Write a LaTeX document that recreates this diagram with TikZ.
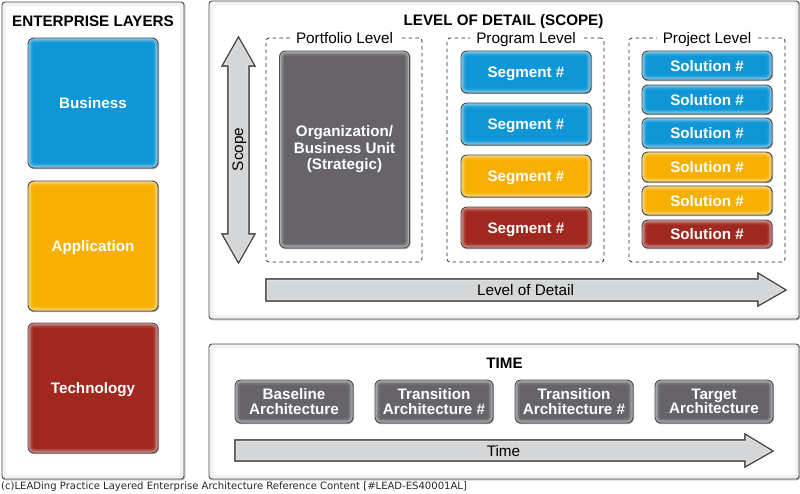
\documentclass[tikz,border=0pt]{standalone}
\usepackage{fontspec}
\setmainfont{Liberation Sans}
\newfontfamily\footfont{DejaVu Sans}
\definecolor{cblue}{HTML}{0E96D6}
\definecolor{cyell}{HTML}{F7B000}
\definecolor{cred}{HTML}{A0281E}
\definecolor{cgrey}{HTML}{666469}
\definecolor{carrow}{HTML}{D4D6D8}
\definecolor{cedge}{HTML}{4A4A4A}
\tikzset{
  x=1pt,y=-1pt,
  panel/.style={draw=cedge,line width=.9pt,rounded corners=3pt,fill=white,
    preaction={draw=black!30,line width=1pt,transform canvas={xshift=.8pt,yshift=-.8pt}},
    path picture={
      \draw[black!5,line width=8pt,rounded corners=3pt] (path picture bounding box.south west) rectangle (path picture bounding box.north east);}},
  dashbox/.style={draw=black!85,line width=.8pt,dash pattern=on 3.6pt off 3.2pt,rounded corners=3pt},
  block/.style={draw=cedge,line width=.9pt,rounded corners=6pt,fill=#1,text=white,
    font=\bfseries\fontsize{15.2}{16.5}\selectfont,align=center,inner sep=0pt,outer sep=0pt,
    preaction={draw=black!35,line width=1pt,transform canvas={xshift=.6pt,yshift=-.7pt}},
    path picture={
      \draw[white,opacity=.10,line width=9pt,rounded corners=6pt] (path picture bounding box.south west) rectangle (path picture bounding box.north east);
      \draw[white,opacity=.18,line width=6pt,rounded corners=6pt] (path picture bounding box.south west) rectangle (path picture bounding box.north east);
      \draw[white,opacity=.30,line width=3pt,rounded corners=6pt] (path picture bounding box.south west) rectangle (path picture bounding box.north east);}},
  oneline/.style={text height=11pt,text depth=0pt},
  timeblock/.style={block=cgrey,minimum width=118pt,minimum height=43pt,
    font=\bfseries\fontsize{15.2}{14.3}\selectfont},
  ttl/.style={font=\bfseries\fontsize{15.2}{16}\selectfont,text=black,inner sep=0pt,text height=11pt,text depth=0pt},
  lvl/.style={font=\fontsize{15.3}{16}\selectfont,text=black,fill=white,inner xsep=6pt,inner ysep=1pt,text height=11pt,text depth=0pt},
  arrowfill/.style={draw=cedge,line width=1.1pt,fill=carrow,line join=miter},
  arrowtxt/.style={font=\fontsize{15.3}{16}\selectfont,text=black,inner sep=0pt,text height=11pt,text depth=0pt},
  glow/.style={draw=white,opacity=.45,line width=3pt}
}
\newcommand{\glowpath}[1]{%
  \draw[arrowfill] #1;
  \begin{scope}\clip #1; \draw[glow] #1; \end{scope}%
  \draw[cedge,line width=1.1pt] #1;}
\begin{document}
\begin{tikzpicture}
\useasboundingbox (0,0) rectangle (800,493);
% panels
\node[panel,minimum width=182pt,minimum height=477pt,inner sep=0pt] (layers) at (93,240.5) {};
\node[panel,minimum width=590pt,minimum height=318pt,inner sep=0pt] (scope) at (504,160) {};
\node[panel,minimum width=590pt,minimum height=135pt,inner sep=0pt] (time) at (504,411.5) {};
% titles
\node[ttl] (t1) at (93,20.5) {ENTERPRISE LAYERS};
\node[ttl] (t2) at (503.5,20) {LEVEL OF DETAIL (SCOPE)};
\node[ttl] (t3) at (504.5,363) {TIME};
% layers
\node[block=cblue,oneline,minimum width=130pt,minimum height=130pt] (business) at (93,103) {Business};
\node[block=cyell,oneline,minimum width=130pt,minimum height=130pt] (application) at (93,246) {Application};
\node[block=cred,oneline,minimum width=130pt,minimum height=130pt] (technology) at (93,388) {Technology};
% dashed groups
\node[dashbox,minimum width=156pt,minimum height=224pt] (portfolio) at (344,150) {};
\node[dashbox,minimum width=157pt,minimum height=224pt] (program) at (525.5,150) {};
\node[dashbox,minimum width=156pt,minimum height=224pt] (project) at (707,150) {};
\node[lvl] (lp) at (344.5,38) {Portfolio Level};
\node[lvl] (lg) at (526,38) {Program Level};
\node[lvl] (lj) at (707,38) {Project Level};
% portfolio
\node[block=cgrey,minimum width=130pt,minimum height=197pt] (org) at (344.5,149.5) {Organization/\\Business Unit\\(Strategic)};
% program
\node[block=cblue,oneline,minimum width=130pt,minimum height=42pt] (s1) at (526,72) {Segment \#};
\node[block=cblue,oneline,minimum width=130pt,minimum height=42pt] (s2) at (526,124) {Segment \#};
\node[block=cyell,oneline,minimum width=130pt,minimum height=42pt] (s3) at (526,176) {Segment \#};
\node[block=cred,oneline,minimum width=130pt,minimum height=41pt] (s4) at (526,227.5) {Segment \#};
% project
\node[block=cblue,oneline,minimum width=130pt,minimum height=29pt] (p1) at (707,65.5) {Solution \#};
\node[block=cblue,oneline,minimum width=130pt,minimum height=29pt] (p2) at (707,99.5) {Solution \#};
\node[block=cblue,oneline,minimum width=130pt,minimum height=30pt] (p3) at (707,133) {Solution \#};
\node[block=cyell,oneline,minimum width=130pt,minimum height=30pt] (p4) at (707,167) {Solution \#};
\node[block=cyell,oneline,minimum width=130pt,minimum height=29pt] (p5) at (707,200.5) {Solution \#};
\node[block=cred,oneline,minimum width=130pt,minimum height=28pt] (p6) at (707,234) {Solution \#};
% time
\node[timeblock] (b1) at (294,401.5) {Baseline\\Architecture};
\node[timeblock] (b2) at (434,401.5) {Transition\\Architecture \#};
\node[timeblock] (b3) at (574,401.5) {Transition\\Architecture \#};
\node[timeblock] (b4) at (714,401.5) {Target\\Architecture};
% arrows
\glowpath{(238.5,37) -- (255,66) -- (249,66) -- (249,234) -- (255,234) -- (238.5,263) -- (222,234) -- (228,234) -- (228,66) -- (222,66) -- cycle}
\glowpath{(266,279) -- (758,279) -- (758,273) -- (786,290) -- (758,306) -- (758,301) -- (266,301) -- cycle}
\glowpath{(235,440) -- (745,440) -- (745,434) -- (773,451) -- (745,467) -- (745,461) -- (235,461) -- cycle}
\node[arrowtxt,rotate=90] (scopelbl) at (237.5,149.5) {Scope};
\node[arrowtxt] (lodlbl) at (525.5,290) {Level of Detail};
\node[arrowtxt] (timelbl) at (503.5,451) {Time};
% footer
\node[anchor=west,inner sep=0pt,font=\footfont\fontsize{10.05}{11}\selectfont,text=black!85] (foot) at (1,486.5) {(c)LEADing Practice Layered Enterprise Architecture Reference Content [\#LEAD-ES40001AL]};
\end{tikzpicture}
\end{document}
